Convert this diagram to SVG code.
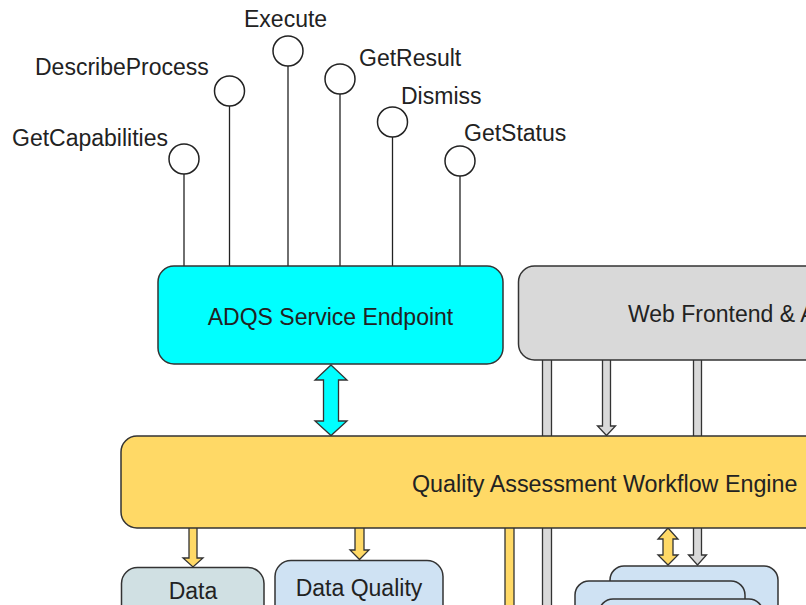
<svg xmlns="http://www.w3.org/2000/svg" width="806" height="605" viewBox="0 0 806 605">
<style>
text{font-family:"Liberation Sans",Arial,sans-serif;font-size:23px;fill:#222}
.box{stroke:#333;stroke-width:1.5}
.op{fill:#fff;stroke:#222;stroke-width:1.5}
.ln{stroke:#222;stroke-width:1.3;fill:none}
.gr{fill:#d9d9d9;stroke:#333;stroke-width:1.3}
.ye{fill:#ffd966;stroke:#333;stroke-width:1.3}
.cy{fill:#00ffff;stroke:#333;stroke-width:1.3}
.bl{fill:#cfe2f3}
</style>
<rect width="806" height="605" fill="#fff"/>
<g id="connectors">
<line class="ln" x1="184" y1="174" x2="184" y2="266"/>
<line class="ln" x1="229.5" y1="106" x2="229.5" y2="266"/>
<line class="ln" x1="288" y1="66" x2="288" y2="266"/>
<line class="ln" x1="340" y1="94" x2="340" y2="266"/>
<line class="ln" x1="392.5" y1="137" x2="392.5" y2="266"/>
<line class="ln" x1="460" y1="176" x2="460" y2="266"/>
<rect class="gr" x="542.5" y="358" width="9" height="250"/>
<path class="gr" d="M602.5,358 V426 H597.5 L606.5,435.5 L615.5,426 H610.5 V358 Z"/>
<path class="gr" d="M693.5,358 V555 H688.5 L697.5,565 L706.5,555 H701.5 V358 Z"/>
<rect class="ye" x="505" y="520" width="9" height="90"/>
<path class="cy" d="M331,365 L347,380 H338.5 V421 H347 L331,435.5 L315,421 H323.5 V380 H315 Z"/>
<path class="ye" d="M189,526 V558 H183 L193,567 L203,558 H197 V526 Z"/>
<path class="ye" d="M355,526 V550 H350 L359.5,559.5 L369,550 H364 V526 Z"/>
<path class="ye" d="M668,528 L678,539 H673 V555 H678 L668,565 L658,555 H663 V539 H658 Z"/>
</g>
<g id="op-getcapabilities"><circle class="op" cx="184" cy="159" r="15"/><text x="12" y="146">GetCapabilities</text></g>
<g id="op-describeprocess"><circle class="op" cx="229.5" cy="91" r="15"/><text x="35" y="75">DescribeProcess</text></g>
<g id="op-execute"><circle class="op" cx="288" cy="51" r="15"/><text x="244" y="27">Execute</text></g>
<g id="op-getresult"><circle class="op" cx="340" cy="79" r="15"/><text x="359" y="66">GetResult</text></g>
<g id="op-dismiss"><circle class="op" cx="392.5" cy="122" r="15"/><text x="401" y="104">Dismiss</text></g>
<g id="op-getstatus"><circle class="op" cx="460" cy="161" r="15"/><text x="464" y="141">GetStatus</text></g>
<g id="adqs"><rect class="box" x="158" y="266" width="345" height="98" rx="16" fill="#00ffff"/><text x="330.5" y="325" text-anchor="middle">ADQS Service Endpoint</text></g>
<g id="web"><rect class="box" x="518.5" y="266" width="320" height="94" rx="16" fill="#d9d9d9"/><text x="628" y="322">Web Frontend &amp; A</text></g>
<g id="engine"><rect class="box" x="121" y="436" width="720" height="92" rx="16" fill="#ffd966"/><text x="412" y="492" style="font-size:23.3px">Quality Assessment Workflow Engine</text></g>
<g id="data"><rect class="box" x="121.5" y="567.5" width="142.5" height="60" rx="16" fill="#d0e0e3"/><text x="193" y="599" text-anchor="middle">Data</text></g>
<g id="dq"><rect class="box" x="275" y="560.5" width="168" height="70" rx="16" fill="#cfe2f3"/><text x="359" y="596" text-anchor="middle">Data Quality</text></g>
<g id="stack">
<rect class="box bl" x="610" y="566" width="168" height="70" rx="14"/>
<rect class="box bl" x="575" y="581" width="170" height="60" rx="14"/>
<rect class="box bl" x="599" y="599" width="164" height="40" rx="14"/>
</g>
</svg>
